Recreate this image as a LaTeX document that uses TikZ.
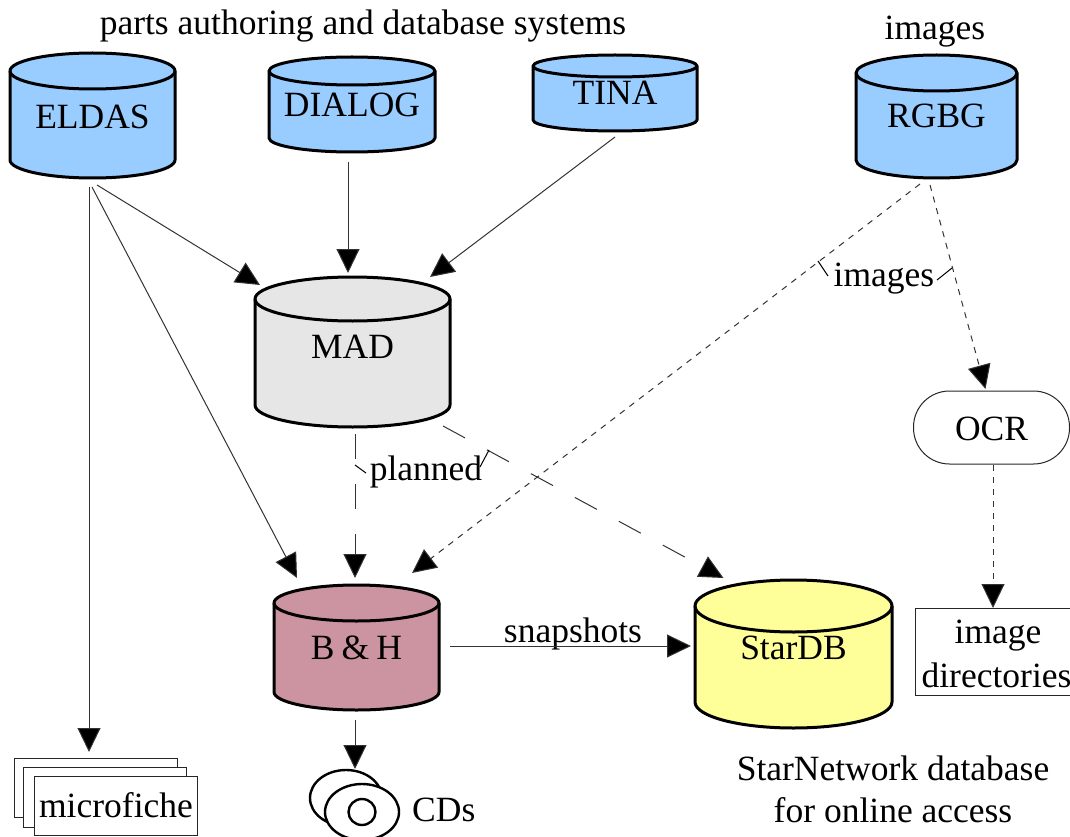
\documentclass[tikz,border=0pt]{standalone}
\usepackage{fontspec}
\setmainfont{Liberation Serif}
\usetikzlibrary{arrows.meta,calc}
\definecolor{cblue}{HTML}{99CCFF}
\definecolor{cgray}{HTML}{E6E6E6}
\definecolor{crose}{HTML}{CC94A0}
\definecolor{cyellow}{HTML}{FFFF99}
\tikzset{
  lbl/.style={inner sep=0pt,font=\fontsize{35.5}{42}\selectfont,align=center,text=black},
  cylbody/.style={draw=black,line width=3pt,line join=round},
  cylbox/.style={inner sep=0pt,outer sep=0pt,draw=none,fill=none},
  conn/.style={draw=black!80,line width=1pt,-{Triangle[length=24pt,width=23pt,fill=black]}},
  longdash/.style={conn,dash pattern=on 25pt off 25pt},
  shortdash/.style={conn,dash pattern=on 6pt off 6pt},
  leader/.style={draw=black,line width=1pt},
  thinbox/.style={draw=black!85,fill=white,line width=1pt,inner sep=0pt,outer sep=0pt},
  cdline/.style={draw=black,line width=2.4pt,fill=white},
}
% name, left, right, top, bottom, ry, fill, text, text y
\newcommand{\mycyl}[9]{%
  \pgfmathsetmacro{\cxx}{(#2+#3)/2}%
  \pgfmathsetmacro{\rxx}{(#3-#2)/2}%
  \pgfmathsetmacro{\cyy}{(#4+#5)/2}%
  \pgfmathsetmacro{\ttop}{#4+#6}%
  \pgfmathsetmacro{\bbot}{#5-#6}%
  \draw[cylbody,fill=#7] (#2,\ttop) -- (#2,\bbot)
    arc[start angle=180,end angle=0,x radius=\rxx,y radius=#6] -- (#3,\ttop)
    arc[start angle=0,end angle=-180,x radius=\rxx,y radius=#6] -- cycle;
  \draw[cylbody] (#2,\ttop) arc[start angle=180,end angle=0,x radius=\rxx,y radius=#6];
  \node[cylbox,minimum width={(#3-#2)*1pt},minimum height={(#5-#4)*1pt}] (#1) at (\cxx,\cyy) {};
  \node[lbl] (#1-text) at (\cxx,#9) {#8};
}
\begin{document}
\begin{tikzpicture}[x=1pt,y=-1pt]
\useasboundingbox (0,0) rectangle (1070,837);
\clip (0,0) rectangle (1070,837);
\fill[white] (0,0) rectangle (1070,837);

\node[lbl] (title) at (363,26) {parts authoring and database systems};
\node[lbl] (imgtop) at (935,32) {images};

\mycyl{eldas}{10}{175}{53}{178}{18}{cblue}{ELDAS}{116.5}
\mycyl{dialog}{269}{435}{57}{152}{14}{cblue}{DIALOG}{105}
\mycyl{tina}{533}{697}{55}{131}{11}{cblue}{TINA}{93}
\mycyl{rgbg}{856}{1017}{55}{178}{18}{cblue}{RGBG}{116}
\mycyl{mad}{255}{450}{277}{427}{22}{cgray}{MAD}{347}
\mycyl{bh}{274}{439}{585}{710}{18}{crose}{B\hspace{0.2em}\&\hspace{0.2em}H}{648}
\mycyl{stardb}{695}{892}{580}{728}{26}{cyellow}{StarDB}{648}

\node[thinbox,rounded corners=36pt,minimum width=156pt,minimum height=73pt] (ocr) at (991.5,427.5) {};
\node[lbl] (ocrtext) at (991.5,429) {OCR};
\node[thinbox,minimum width=170pt,minimum height=87pt] (imgdir) at (1000,651.5) {};
\node[lbl] (imgtext1) at (998,636) {image};
\node[lbl] (imgtext2) at (996.5,675) {directories};

\node[thinbox,minimum width=163pt,minimum height=59pt] (mf1) at (95.5,787.5) {};
\node[thinbox,minimum width=163pt,minimum height=60pt] (mf2) at (104.5,797) {};
\node[thinbox,minimum width=163pt,minimum height=59pt] (mf3) at (115.5,805.5) {};
\node[lbl] (mftext) at (116,805) {microfiche};

\draw[cdline] (346,798) ellipse[x radius=36,y radius=28];
\draw[cdline] (362,812) ellipse[x radius=37,y radius=28];
\draw[cdline] (362,812) ellipse[x radius=13.5,y radius=13];
\coordinate (cd) at (355,769);
\node[lbl,anchor=west] (cdtext) at (412,810) {CDs};

\node[lbl] (snap) at (573,634) {snapshots};
\node[lbl] (sn1) at (893,768) {StarNetwork database};
\node[lbl] (sn2) at (893,810) {for online access};
\node[lbl] (planned) at (426,472) {planned};
\node[lbl] (imgmid) at (884,279) {images};

% connectors
\draw[conn] ($(eldas.south)+(-3.5,9)$) -- ($(mf1.north)+(-6.5,-6)$);
\draw[conn] ($(eldas.south)+(4.5,7)$) -- ($(mad.north west)+(5,8)$);
\draw[conn] ($(eldas.south)+(-0.5,9)$) -- ($(bh.north west)+(23,-7)$);
\draw[conn] ($(dialog.south)+(-4,10)$) -- ($(mad.north)+(-4.5,-4)$);
\draw[conn] ($(tina.south)+(0,6)$) -- ($(mad.north east)+(-20,0)$);
\draw[shortdash] ($(rgbg.south)+(-16.5,6)$) -- ($(bh.north)+(55.5,-12)$);
\draw[shortdash] ($(rgbg.south)+(-6.5,7)$) -- ($(ocr.north)+(-6,-2)$);
\draw[shortdash] ($(ocr.south)+(1.5,1)$) -- ($(imgdir.north)+(-7,0)$);
\draw[longdash] ($(mad.south)+(2.5,7)$) -- ($(bh.north)+(-1.5,-7)$);
\draw[longdash] ($(mad.south east)+(-7,-1)$) -- ($(stardb.north)+(-70,-2)$);
\draw[conn] ($(bh.east)+(11,-1.5)$) -- ($(stardb.west)+(-4,-8)$);
\draw[conn] ($(bh.south)+(-1.5,10)$) -- (cd);

% label leaders
\draw[leader] (355,465) -- (366,473);
\draw[leader] (480,467) -- (489,450);
\draw[leader] (818,261) -- (828,276);
\draw[leader] (937,280) -- (952,268);
\end{tikzpicture}
\end{document}
